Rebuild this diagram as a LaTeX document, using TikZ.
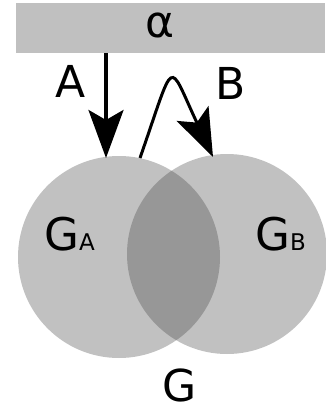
\documentclass[tikz,border=0pt]{standalone}
\usepackage{fontspec}
\setmainfont{DejaVu Sans}
\usetikzlibrary{arrows.meta}
\definecolor{barfill}{RGB}{192,192,192}
\definecolor{setfill}{RGB}{66,66,66}
\begin{document}
\begin{tikzpicture}[x=1pt,y=-1pt,
  setdisk/.style={circle,inner sep=0pt,fill=setfill,fill opacity=0.33,draw=none},
  bigtext/.style={inner sep=0pt,anchor=base,font=\fontsize{44}{44}\selectfont},
  flow/.style={line width=3.5pt,-{Stealth[length=48pt,width=35pt,inset=10pt]}}]
  \useasboundingbox (0,0) rectangle (325,414);
  % top bar
  \node[fill=barfill,inner sep=0pt,minimum width=309pt,minimum height=50pt,anchor=north west] (bar) at (16,3) {};
  \node[bigtext] (alpha) at (160,38) {α};
  % the two sets
  \node[setdisk,minimum size=202pt] (ga) at (119,257) {};
  \node[setdisk,minimum size=200pt] (gb) at (227,254) {};
  \node[inner sep=0pt,anchor=base west] (galabel) at (44,250)
    {{\fontsize{45}{45}\selectfont G}{\fontsize{23}{23}\selectfont A}};
  \node[inner sep=0pt,anchor=base west] (gblabel) at (255,250)
    {{\fontsize{45}{45}\selectfont G}{\fontsize{23}{23}\selectfont B}};
  \node[bigtext] (g) at (180,401) {G};
  % arrows
  \coordinate (atip) at (106,158);
  \coordinate (bstart) at (140,158);
  \coordinate (btip) at (213,157);
  \draw[flow] (bar.south -| atip) -- (atip);
  \draw[flow,line width=3pt] (bstart) .. controls (176,55) and (167,59) .. (btip);
  \node[bigtext] (alab) at (71,98) {A};
  \node[bigtext] (blab) at (231,100) {B};
\end{tikzpicture}
\end{document}
